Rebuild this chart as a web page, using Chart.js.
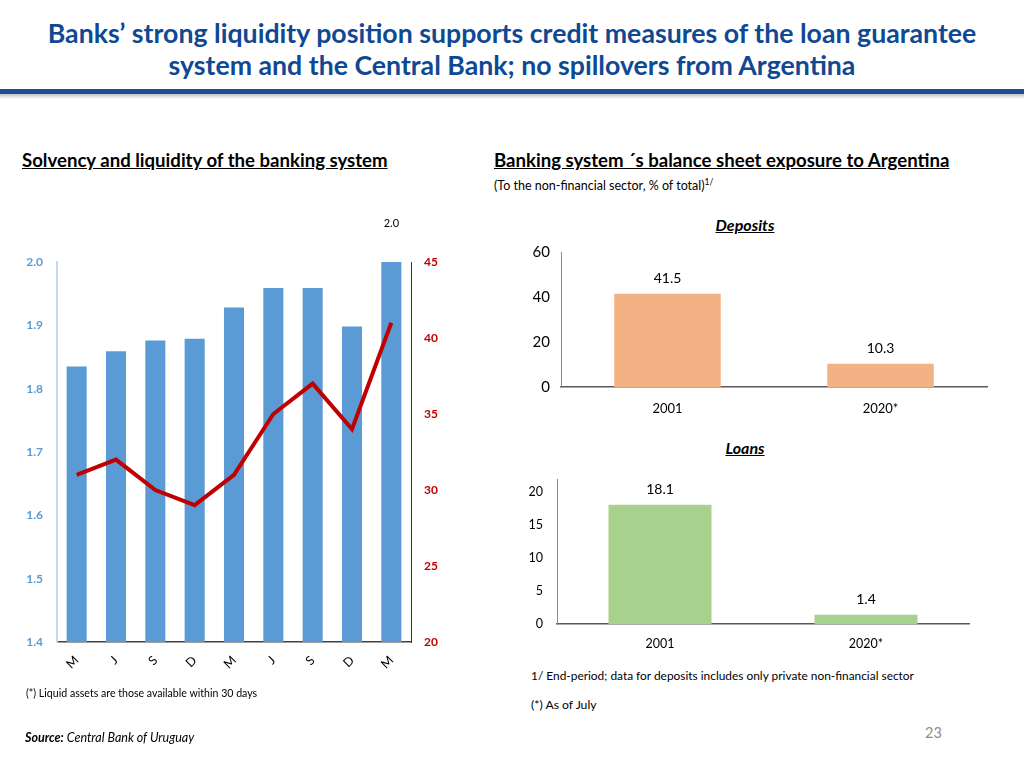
<!DOCTYPE html>
<html>
<head>
<meta charset="utf-8">
<script src="https://cdn.jsdelivr.net/npm/chart.js@4.4.1/dist/chart.umd.min.js"></script>
<style>
  html, body { margin: 0; padding: 0; background: #ffffff; }
  body { width: 1024px; height: 768px; position: relative; overflow: hidden; font-family: Lato, "Open Sans", sans-serif; color: #000; }
  .abs { position: absolute; white-space: nowrap; }
  #title { left: 0; top: 17px; width: 1024px; text-align: center; color: #0F4893; font-weight: bold; font-size: 26.7px; line-height: 32px; }
  #rule { left: 0; top: 89px; width: 1024px; height: 5px; background: #1F4E93; }
  #shadow { left: 0; top: 94px; width: 1024px; height: 5px; background: linear-gradient(#bfc4cc, #ffffff); }
  .sub { font-weight: bold; font-size: 18.6px; text-decoration: underline; line-height: 22px; }
  .panelTitle { font-weight: bold; font-style: italic; text-decoration: underline; font-size: 16px; line-height: 20px; width: 200px; text-align: center; }
  .box { position: absolute; }
</style>
</head>
<body>
<div id="title" class="abs">Banks’ strong liquidity position supports credit measures of the loan guarantee<br>system and the Central Bank; no spillovers from Argentina</div>
<div id="rule" class="abs"></div>
<div id="shadow" class="abs"></div>

<div class="abs sub" style="left:22px; top:149px;">Solvency and liquidity of the banking system</div>
<div class="abs sub" style="left:494px; top:149px;">Banking system ´s balance sheet exposure to Argentina</div>
<div class="abs" style="left:494px; top:174px; font-size:12.5px; line-height:16px;">(To the non-financial sector, % of total)<sup style="font-size:8.5px; vertical-align: 5px;">1/</sup></div>

<div class="abs panelTitle" style="left:645px; top:215px;">Deposits</div>
<div class="abs panelTitle" style="left:645px; top:438px;">Loans</div>

<div class="box" style="left:0px; top:200px; width:460px; height:490px;"><canvas id="leftChart"></canvas></div>
<div class="box" style="left:500px; top:222px; width:510px; height:198px;"><canvas id="depChart"></canvas></div>
<div class="box" style="left:500px; top:449px; width:510px; height:211px;"><canvas id="loanChart"></canvas></div>

<div class="abs" style="left:26px; top:686px; font-size:10.6px; line-height:14px;">(*) Liquid assets are those available within 30 days</div>
<div class="abs" style="left:25px; top:730px; font-size:12.5px; line-height:16px; font-style:italic;"><b>Source:</b> Central Bank of Uruguay</div>
<div class="abs" style="left:531px; top:668px; font-size:11.9px; line-height:16px;">1/ End-period; data for deposits includes only private non-financial sector</div>
<div class="abs" style="left:531px; top:697px; font-size:12.2px; line-height:16px;">(*) As of July</div>
<div class="abs" style="left:925px; top:724px; font-size:14.5px; line-height:18px; color:#8c8c8c;">23</div>

<script>
// ---- Data ----
const monthLabels = ['M', 'J', 'S', 'D', 'M', 'J', 'S', 'D', 'M'];
const liquidityRatio = [1.835, 1.859, 1.876, 1.879, 1.928, 1.959, 1.959, 1.898, 2.0];
const solvencyRatio = [31, 32, 30, 29, 31, 35, 37, 34, 41];
const exposureYears = ['2001', '2020*'];
const depositShares = [41.5, 10.3];
const loanShares = [18.1, 1.4];
const depositTicks = [0, 20, 40, 60];
const loanTicks = [0, 5, 10, 15, 20];

// ---- Helpers ----
Chart.defaults.font.family = 'Lato, "Open Sans", sans-serif';
Chart.defaults.color = '#000';

const valueLabels = {
  id: 'valueLabels',
  afterDatasetsDraw(chart, args, opts) {
    if (!opts || !opts.show) return;
    const di = opts.datasetIndex || 0;
    const meta = chart.getDatasetMeta(di);
    const ds = chart.data.datasets[di];
    const ctx = chart.ctx;
    ctx.save();
    ctx.font = opts.font;
    ctx.fillStyle = opts.color || '#000';
    ctx.textAlign = 'center';
    ctx.textBaseline = 'middle';
    meta.data.forEach((el, i) => {
      if (opts.indices && !opts.indices.includes(i)) return;
      ctx.fillText(Number(ds.data[i]).toFixed(1), el.x, el.y - opts.offset);
    });
    ctx.restore();
  }
};
const fixW = w => s => { s.width = w; };
const fixH = h => s => { s.height = h; };

// ---- Left chart ----
new Chart(document.getElementById('leftChart'), {
  type: 'bar',
  plugins: [valueLabels],
  data: {
    labels: monthLabels,
    datasets: [
      { type: 'line', data: solvencyRatio, yAxisID: 'y1', borderColor: '#C00000', borderWidth: 4,
        pointRadius: 0, tension: 0, fill: false, order: 0 },
      { type: 'bar', data: liquidityRatio, yAxisID: 'y', backgroundColor: '#5B9BD5',
        barPercentage: 0.51, categoryPercentage: 1, order: 1 }
    ]
  },
  options: {
    responsive: true, maintainAspectRatio: false, animation: false,
    layout: { padding: { top: 62, left: 0, right: 0, bottom: 0 } },
    plugins: { legend: { display: false }, tooltip: { enabled: false },
      valueLabels: { show: true, datasetIndex: 1, indices: [8], offset: 39, font: '11px Lato, sans-serif', color: '#000' } },
    scales: {
      x: { grid: { display: false }, border: { display: true, color: '#404040', width: 1.5 },
        ticks: { maxRotation: 45, minRotation: 45, autoSkip: false, padding: 3, font: { size: 12.5 }, color: '#000' },
        afterFit: fixH(48) },
      y: { position: 'left', min: 1.4, max: 2.0, grid: { display: false },
        border: { display: true, color: '#C5D9EE', width: 2 },
        ticks: { stepSize: 0.1, padding: 6, color: '#5B9BD5', font: { size: 12, weight: 'bold' },
          callback: v => Number(v).toFixed(1) },
        afterFit: fixW(57) },
      y1: { position: 'right', min: 20, max: 45, grid: { display: false },
        border: { display: true, color: '#C00000', width: 1 },
        ticks: { stepSize: 5, padding: 5, color: '#C00000', font: { size: 12, weight: 'bold' } },
        afterFit: fixW(49) }
    }
  }
});

// ---- Right charts ----
function exposureChart(id, values, color, yMax, tickValues, area) {
  return new Chart(document.getElementById(id), {
    type: 'bar',
    plugins: [valueLabels],
    data: { labels: exposureYears, datasets: [{ data: values, backgroundColor: color, barPercentage: 0.5, categoryPercentage: 1 }] },
    options: {
      responsive: true, maintainAspectRatio: false, animation: false,
      layout: { padding: { top: area.top, left: 0, right: area.right, bottom: 0 } },
      plugins: { legend: { display: false }, tooltip: { enabled: false },
        valueLabels: { show: true, datasetIndex: 0, offset: 15, font: '14px Lato, sans-serif', color: '#000' } },
      scales: {
        x: { grid: { display: false }, border: { display: true, color: '#595959', width: 1.5 },
          ticks: { padding: area.xPad, font: { size: area.xFont }, color: '#000' }, afterFit: fixH(area.xh) },
        y: { min: 0, max: yMax, grid: { display: false }, border: { display: true, color: '#8c8c8c', width: 1 },
          afterBuildTicks: s => { s.ticks = tickValues.map(v => ({ value: v })); },
          ticks: { padding: area.yPad, font: { size: area.yFont }, color: '#000' },
          afterFit: fixW(area.yw) }
      }
    }
  });
}
exposureChart('depChart', depositShares, '#F4B183', 60, depositTicks,
  { top: 30, right: 23, xh: 33, yw: 61, xPad: 6, yPad: 3, xFont: 13, yFont: 15 });
exposureChart('loanChart', loanShares, '#A9D18E', 22, loanTicks,
  { top: 30, right: 41, xh: 36, yw: 57, xPad: 4, yPad: 6, xFont: 12.5, yFont: 12.5 });
</script>
</body>
</html>
